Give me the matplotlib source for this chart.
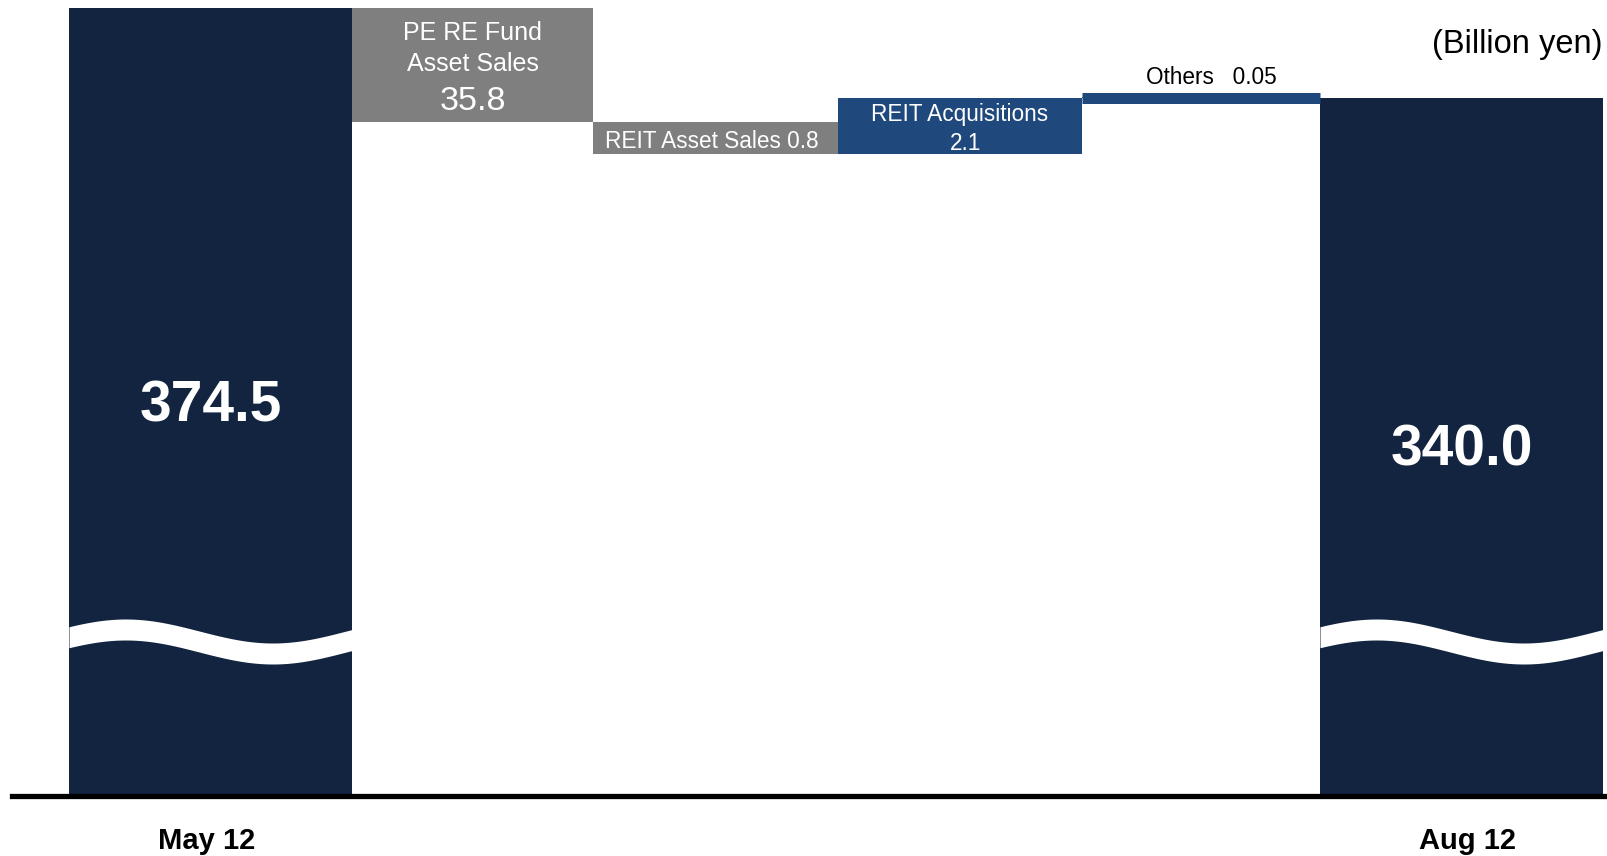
import numpy as np
import matplotlib
matplotlib.use("Agg")
from matplotlib import pyplot as plt
import matplotlib.transforms as mtransforms

plt.rcParams['font.family'] = ['Liberation Sans', 'DejaVu Sans']

# data (billion yen)
periods = ['May 12', 'Aug 12']
start_val = 374.5
end_val = 340.0
step_names = ['PE RE Fund Asset Sales', 'REIT Asset Sales', 'REIT Acquisitions', 'Others']
step_vals = [-35.8, -0.8, 2.1, 0.05]

NAVY = '#12243f'
GRAY = '#7f7f7f'
BLUE = '#1f497d'

W, H = 1607, 856
fig = plt.figure(figsize=(W / 100, H / 100), dpi=100)
ax = fig.add_axes([0, 60 / H, 1, 796 / H])

# broken scale: compressed near the top so the small steps stay visible
C = 337.4
Y0 = 337.6
U0 = np.log(Y0 - C)
K = 33.9  # px per log unit
S = ((796 - 8) / K - (np.log(start_val - C) - U0)) / Y0

def fwd(y):
    y = np.asarray(y, float)
    lg = np.log(np.maximum(y - C, 1e-9))
    lin = U0 + (y - Y0) * S
    return np.where(y >= Y0, lg, lin)

def inv(u):
    u = np.asarray(u, float)
    return np.where(u >= U0, np.exp(np.minimum(u, 50)) + C, Y0 + (u - U0) / S)

ax.set_yscale('function', functions=(fwd, inv))
ax.set_xlim(0, W)
ax.set_ylim(0, float(inv(fwd(start_val) + 8 / K)))

# bar edges in x (layout)
edges = [69, 352, 593, 838, 1082, 1320, 1603]
lefts = edges[:-1]
widths = [edges[i + 1] - edges[i] for i in range(len(edges) - 1)]
centers = [l + w / 2 for l, w in zip(lefts, widths)]

# total bars
ax.bar(lefts[0], start_val, width=widths[0], align='edge', color=NAVY, zorder=2)
ax.bar(lefts[-1], end_val, width=widths[-1], align='edge', color=NAVY, zorder=2)

# waterfall steps
cum = start_val
step_lo = []
step_hi = []
for i, d in enumerate(step_vals):
    lo, hi = min(cum, cum + d), max(cum, cum + d)
    col = GRAY if d < 0 else BLUE
    step_lo.append(lo)
    step_hi.append(hi)
    ax.bar(lefts[i + 1], hi - lo, bottom=lo, width=widths[i + 1], align='edge',
           color=col, zorder=2, linewidth=0)
    cum += d

# the Others step is too thin to see, give it a visible line
ax.plot([lefts[4], edges[5]], [(step_lo[3] + step_hi[3]) / 2] * 2, color=BLUE,
        lw=11 * 0.72, solid_capstyle='butt', zorder=2)

# baseline
ax.plot([12, W], [0, 0], color='black', lw=3.8, clip_on=False, zorder=3)

# wave break on the total bars
blend = mtransforms.blended_transform_factory(ax.transData, fig.transFigure)
for b in [0, 5]:
    x = np.linspace(lefts[b], edges[b + 1], 200)
    t = (x - lefts[b]) / widths[b]
    up = 631 - 12 * np.cos(2 * np.pi * (t - 0.2) / 1.04)
    lo = up + 21
    ax.fill_between(x, 1 - up / H, 1 - lo / H, color='white', lw=0,
                    transform=blend, zorder=4)

# total values
ax.text(centers[0], 1 - 407 / H, f'{start_val:.1f}', transform=blend, color='white',
        fontsize=41, fontweight='bold', ha='center', va='center', zorder=5)
ax.text(centers[-1], 1 - 450 / H, f'{end_val:.1f}', transform=blend, color='white',
        fontsize=41, fontweight='bold', ha='center', va='center', zorder=5)

# step labels
ax.text(centers[1], 1 - 33 / H, 'PE RE Fund', transform=blend, color='white',
        fontsize=18, ha='center', va='center', zorder=5)
ax.text(centers[1], 1 - 64 / H, 'Asset Sales', transform=blend, color='white',
        fontsize=18, ha='center', va='center', zorder=5)
ax.text(centers[1], 1 - 102 / H, f'{abs(step_vals[0]):g}', transform=blend, color='white',
        fontsize=24.5, ha='center', va='center', zorder=5)
ax.text(centers[2] - 4, 1 - 141 / H, f'{step_names[1]} {abs(step_vals[1]):g}', transform=blend,
        color='white', fontsize=16.3, ha='center', va='center', zorder=5)
ax.text(centers[3], 1 - 115 / H, step_names[2], transform=blend, color='white',
        fontsize=16.3, ha='center', va='center', zorder=5)
ax.text(centers[3] + 6, 1 - 143 / H, f'{abs(step_vals[2]):g}', transform=blend, color='white',
        fontsize=16.3, ha='center', va='center', zorder=5)
ax.text(centers[4] + 10, 1 - 78 / H, f'{step_names[3]}   {step_vals[3]:g}', transform=blend,
        color='black', fontsize=16.3, ha='center', va='center', zorder=5)

# unit
fig.text(1602 / W, 1 - 45 / H, '(Billion yen)', fontsize=23.5, ha='right', va='center')

# period labels
ax.set_xticks([centers[0] - 4, centers[-1] + 6])
ax.set_xticklabels(periods, fontsize=21, fontweight='bold')
ax.tick_params(axis='x', length=0, pad=22)
ax.set_yticks([])
ax.yaxis.set_minor_locator(matplotlib.ticker.NullLocator())
for s in ax.spines.values():
    s.set_visible(False)

fig.savefig('out.png', dpi=100)
